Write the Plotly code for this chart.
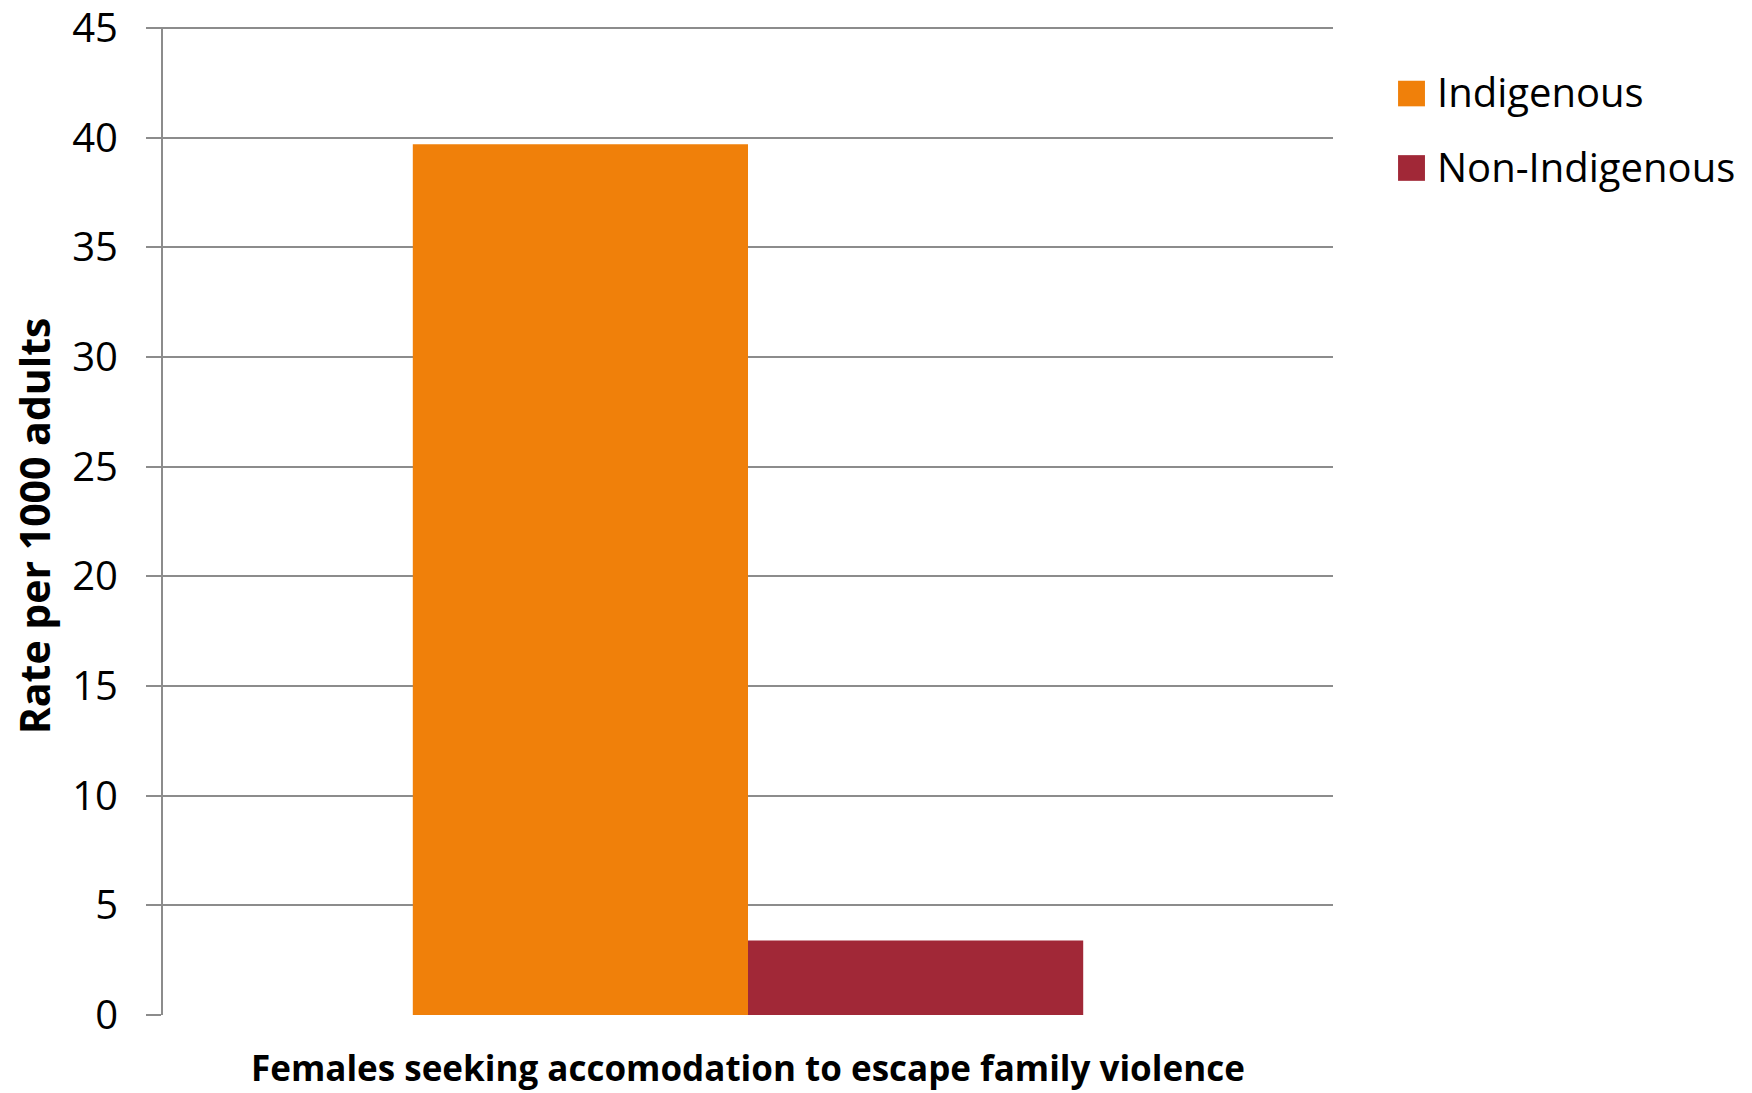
import plotly.graph_objects as go

categories = ["Females seeking accomodation to escape family violence"]
series_names = ["Indigenous", "Non-Indigenous"]
indigenous = [39.7]
non_indigenous = [3.4]
colors = ["#F0800A", "#A12837"]
y_ticks = [0, 5, 10, 15, 20, 25, 30, 35, 40, 45]

FONT = "Open Sans"
fig = go.Figure()
for name, vals, col in zip(series_names, [indigenous, non_indigenous], colors):
    fig.add_trace(go.Bar(x=[""], y=vals, name=name, showlegend=False,
                         marker=dict(color=col, line=dict(width=0))))

fig.update_layout(
    width=1752, height=1093,
    paper_bgcolor="white", plot_bgcolor="white",
    barmode="group", bargap=0.427, bargroupgap=0,
    margin=dict(l=163, r=419, t=27, b=78, autoexpand=False),
    font=dict(family=FONT, color="black"),
    showlegend=False,
)
fig.update_xaxes(showticklabels=False, showline=False, ticks="", showgrid=False)
fig.update_yaxes(range=[0, 45.05], tickvals=y_ticks,
                 ticktext=[str(v) + "\u2002" for v in y_ticks],
                 ticklabeloverflow="allow",
                 showgrid=True, gridcolor="#8C8C8C", gridwidth=2,
                 showline=True, linecolor="#8C8C8C", linewidth=2,
                 ticks="outside", ticklen=15, tickcolor="#8C8C8C", tickwidth=2,
                 tickfont=dict(size=40, family=FONT), zeroline=False)

# custom legend (large square swatches)
legend_rows = [(0.9456, 0.9197), (0.8703, 0.8443)]
for name, col, (y1, y0) in zip(series_names, colors, legend_rows):
    fig.add_shape(type="rect", xref="paper", yref="paper",
                  x0=1.0556, x1=1.0786, y0=y0, y1=y1,
                  fillcolor=col, line=dict(width=0))
    fig.add_annotation(text=name, xref="paper", yref="paper",
                       x=1.0868, y=(y0 + y1) / 2 + 0.002, showarrow=False,
                       xanchor="left", yanchor="middle",
                       font=dict(size=40, family=FONT, color="black"))

fig.add_annotation(text="<b>Rate per 1000 adults</b>", xref="paper", yref="paper",
                   x=-0.11, y=0.495, textangle=-90, showarrow=False,
                   font=dict(size=41, family=FONT), xanchor="center", yanchor="middle")
fig.add_annotation(text="<b>" + categories[0] + "</b>", xref="paper", yref="paper",
                   x=0.5, y=-0.0535, showarrow=False,
                   font=dict(size=35, family=FONT), xanchor="center", yanchor="middle")

fig.write_html("out.html")
